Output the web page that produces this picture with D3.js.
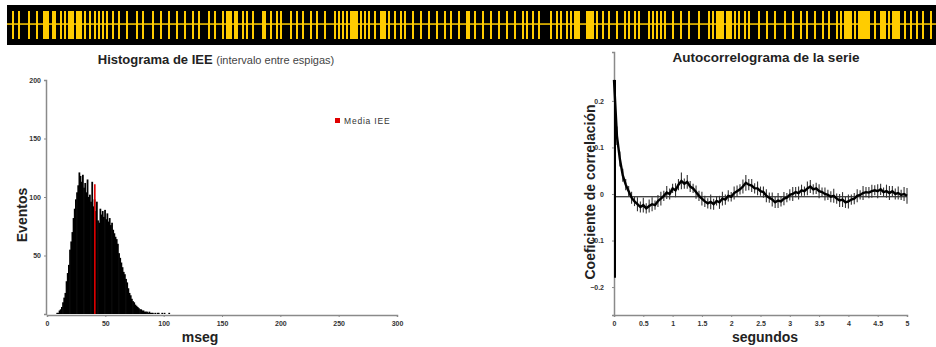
<!DOCTYPE html>
<html>
<head>
<meta charset="utf-8">
<script src="https://cdn.jsdelivr.net/npm/d3@7/dist/d3.min.js"></script>
<style>
  html, body { margin: 0; padding: 0; background: #fff; }
  svg { display: block; font-family: "Liberation Sans", Arial, sans-serif; }
  .tick text { font-size: 7px; font-weight: bold; fill: #333; }
</style>
</head>
<body>
<svg id="chart" width="936" height="347"></svg>
<script>
// tiempos de espigas (ms) para el registro superior
const espigas = [50, 110, 210, 290, 360, 380, 400, 450, 470, 530, 570, 610, 630, 650, 690, 710, 730, 770, 820, 870, 910, 950, 990,
  1050, 1110, 1190, 1290, 1350, 1450, 1530, 1610, 1690, 1770, 1850, 1910, 2010, 2070, 2150, 2190, 2210, 2230, 2270, 2290,
  2350, 2390, 2450, 2550, 2570, 2630, 2690, 2730, 2830, 2890, 2950, 3030, 3090, 3170, 3270, 3310, 3350, 3390, 3430, 3450,
  3470, 3490, 3530, 3570, 3610, 3670, 3730, 3750, 3770, 3810, 3870, 3930, 3970, 4050, 4130, 4210, 4290, 4370, 4430, 4510,
  4590, 4610, 4670, 4750, 4830, 4910, 4990, 5070, 5150, 5190, 5250, 5310, 5430, 5490, 5530, 5590, 5630, 5670, 5690, 5710,
  5790, 5810, 5830, 5850, 5890, 5950, 6010, 6090, 6170, 6210, 6270, 6310, 6410, 6450, 6490, 6530, 6570, 6650, 6730, 6810,
  6910, 7010, 7050, 7090, 7110, 7130, 7150, 7190, 7210, 7230, 7270, 7310, 7370, 7410, 7510, 7590, 7670, 7770, 7850, 7930,
  7990, 8070, 8150, 8210, 8290, 8330, 8370, 8390, 8410, 8430, 8470, 8510, 8530, 8550, 8570, 8590, 8610, 8670, 8730, 8750,
  8770, 8810, 8850, 8870, 8890, 8910, 8970, 9030, 9090, 9150, 9230];
const duracionRegistro = 9290;

// histograma IEE: conteos por bin de 1 ms, desde 0 ms
const conteosIEE = [0, 0, 0, 0, 0, 0, 0, 0, 1, 1,
  3, 4, 6, 10, 14, 18, 28, 35, 42, 55,
  62, 70, 82, 90, 98, 104, 110, 121, 118, 113,
  119, 108, 112, 104, 115, 100, 102, 96, 113, 92,
  98, 88, 96, 80, 78, 90, 85, 88, 83, 89,
  81, 86, 79, 82, 76, 78, 72, 69, 66, 64,
  60, 52, 48, 44, 40, 36, 34, 30, 27, 22,
  18, 16, 13, 11, 10, 8, 7, 6, 5, 4,
  4, 3, 3, 2, 2, 2, 1, 2, 1, 1,
  1, 0, 1, 0, 1, 1, 0, 0, 1, 0,
  1, 0, 0, 0, 1];
const mediaIEE = 41;
const alturaMedia = 111;
const ticksX_IEE = [0, 50, 100, 150, 200, 250, 300];
const ticksY_IEE = [50, 100, 150, 200];

// autocorrelograma: retardos cada 0.05 s de 0 a 5 s
const coefAC = [0.245, 0.125, 0.075, 0.04, 0.02, 0.006, -0.008, -0.016, -0.022, -0.028,
  -0.024, -0.031, -0.026, -0.022, -0.024, -0.015, -0.01, -0.004, 0.003, 0.0,
  0.012, 0.008, 0.02, 0.028, 0.022, 0.026, 0.016, 0.012, 0.004, -0.004,
  -0.01, -0.016, -0.02, -0.017, -0.022, -0.015, -0.018, -0.01, -0.012, -0.004,
  -0.006, 0.002, 0.006, 0.01, 0.016, 0.024, 0.02, 0.018, 0.012, 0.012,
  0.006, 0.004, -0.004, -0.008, -0.012, -0.018, -0.014, -0.016, -0.01, -0.008,
  -0.002, 0.0, 0.004, 0.002, 0.008, 0.006, 0.012, 0.016, 0.01, 0.012,
  0.006, 0.004, 0.0, -0.002, -0.006, -0.004, -0.01, -0.014, -0.012, -0.018,
  -0.016, -0.012, -0.01, -0.004, -0.002, 0.002, 0.004, 0.003, 0.006, 0.008,
  0.006, 0.01, 0.004, 0.006, 0.002, 0.006, 0.0, 0.002, -0.002, 0.0,
  -0.004];
const errAC = [0.425, 0.02, 0.016, 0.014, 0.012, 0.011, 0.013, 0.01, 0.015, 0.012,
  0.016, 0.011, 0.014, 0.015, 0.01, 0.013, 0.015, 0.011, 0.014, 0.012,
  0.01, 0.015, 0.012, 0.018, 0.011, 0.015, 0.012, 0.01, 0.014, 0.011,
  0.015, 0.012, 0.011, 0.016, 0.012, 0.01, 0.014, 0.015, 0.011, 0.012,
  0.01, 0.014, 0.012, 0.011, 0.015, 0.017, 0.012, 0.014, 0.011, 0.015,
  0.01, 0.012, 0.014, 0.011, 0.015, 0.012, 0.016, 0.011, 0.014, 0.01,
  0.012, 0.015, 0.011, 0.014, 0.012, 0.01, 0.015, 0.014, 0.011, 0.012,
  0.015, 0.01, 0.014, 0.011, 0.012, 0.015, 0.011, 0.014, 0.016, 0.012,
  0.015, 0.011, 0.012, 0.014, 0.01, 0.015, 0.011, 0.012, 0.014, 0.011,
  0.015, 0.012, 0.01, 0.014, 0.015, 0.011, 0.012, 0.014, 0.011, 0.015,
  0.017];
const nivelMedioAC = -0.006;
const ticksX_AC = [0, 0.5, 1, 1.5, 2, 2.5, 3, 3.5, 4, 4.5, 5];
const ticksY_AC = [-0.2, -0.1, 0, 0.1, 0.2];

const svg = d3.select('#chart');
const AXIS = '#8a8a8a';

// --- registro de espigas ---
const xR = d3.scaleLinear().domain([0, duracionRegistro]).range([7, 936]);
svg.append('rect').attr('x', 7).attr('y', 5).attr('width', 929).attr('height', 40).attr('fill', '#000');
svg.append('rect').attr('x', 7).attr('y', 23.3).attr('width', 929).attr('height', 1.5).attr('fill', '#ffcc00');
svg.append('g').selectAll('rect').data(espigas).join('rect')
  .attr('x', d => xR(d)).attr('y', 11).attr('width', 2).attr('height', 28)
  .attr('fill', '#ffcc00');

// --- histograma ---
const xH = d3.scaleLinear().domain([0, 300]).range([47, 397]);
const yH = d3.scaleLinear().domain([0, 200]).range([314, 80]);
const gH = svg.append('g');

gH.append('g').selectAll('rect').data(conteosIEE).join('rect')
  .attr('x', (d, i) => xH(i))
  .attr('y', d => yH(d))
  .attr('width', xH(1) - xH(0) + 0.6)
  .attr('height', d => yH(0) - yH(d))
  .attr('fill', '#000');

gH.append('line')
  .attr('x1', xH(mediaIEE)).attr('x2', xH(mediaIEE))
  .attr('y1', yH(0)).attr('y2', yH(alturaMedia))
  .attr('stroke', '#e00000').attr('stroke-width', 1.6);

const axH_x = gH.append('g').attr('transform', `translate(0,${yH(0) + 1})`)
  .call(d3.axisBottom(xH).tickValues(ticksX_IEE).tickSize(2).tickPadding(4));
const axH_y = gH.append('g').attr('transform', `translate(${xH(0) - 1},0)`)
  .call(d3.axisLeft(yH).tickValues(ticksY_IEE).tickSize(2).tickPadding(3));
[axH_x, axH_y].forEach(a => {
  a.select('.domain').attr('stroke', AXIS).attr('stroke-width', 1.5);
  a.selectAll('.tick line').attr('stroke', AXIS);
});

const tH = gH.append('text').attr('x', 216).attr('y', 64).attr('text-anchor', 'middle');
tH.append('tspan').attr('font-weight', 'bold').attr('font-size', 13).attr('fill', '#222').text('Histograma de IEE ');
tH.append('tspan').attr('font-size', 11).attr('fill', '#444').text('(intervalo entre espigas)');

gH.append('rect').attr('x', 335).attr('y', 118).attr('width', 5).attr('height', 5).attr('fill', '#e00000');
gH.append('text').attr('x', 344).attr('y', 123.5).attr('font-size', 8.5).attr('letter-spacing', 0.8)
  .attr('fill', '#333').text('Media IEE');

gH.append('text').attr('x', 200).attr('y', 342).attr('text-anchor', 'middle')
  .attr('font-size', 14).attr('font-weight', 'bold').attr('fill', '#222').text('mseg');
gH.append('text').attr('transform', 'translate(27,215) rotate(-90)').attr('text-anchor', 'middle')
  .attr('font-size', 14).attr('font-weight', 'bold').attr('fill', '#222').text('Eventos');

// --- autocorrelograma ---
const lags = coefAC.map((_, i) => i * 0.05);
const xA = d3.scaleLinear().domain([0, 5]).range([614, 907]);
const yA = d3.scaleLinear().domain([-0.26, 0.305]).range([315, 52]);
const gA = svg.append('g');

const axA_x = gA.append('g').attr('transform', `translate(0,${yA(-0.26)})`)
  .call(d3.axisBottom(xA).tickValues(ticksX_AC).tickSize(2).tickPadding(4).tickFormat(d3.format('~g')));
const axA_y = gA.append('g').attr('transform', `translate(${xA(0)},0)`)
  .call(d3.axisLeft(yA).tickValues(ticksY_AC).tickSize(2).tickPadding(8).tickFormat(d3.format('~g')));
[axA_x, axA_y].forEach(a => {
  a.select('.domain').attr('stroke', AXIS).attr('stroke-width', 1.5);
  a.selectAll('.tick line').attr('stroke', AXIS);
});

gA.append('line')
  .attr('x1', xA(0)).attr('x2', xA(5))
  .attr('y1', yA(nivelMedioAC)).attr('y2', yA(nivelMedioAC))
  .attr('stroke', '#000').attr('stroke-width', 1);

const lo = v => Math.max(v, -0.26), hi = v => Math.min(v, 0.305);
gA.append('g').selectAll('line').data(coefAC).join('line')
  .attr('x1', (d, i) => xA(lags[i]) + (i === 0 ? 1 : 0))
  .attr('x2', (d, i) => xA(lags[i]) + (i === 0 ? 1 : 0))
  .attr('y1', (d, i) => yA(lo(d - errAC[i])))
  .attr('y2', (d, i) => yA(i === 0 ? d : hi(d + errAC[i])))
  .attr('stroke', (d, i) => i === 0 ? '#000' : '#333')
  .attr('stroke-width', (d, i) => i === 0 ? 2 : 1.1);

gA.append('path').datum(coefAC)
  .attr('d', d3.line().x((d, i) => xA(lags[i])).y(d => yA(d)))
  .attr('fill', 'none').attr('stroke', '#000').attr('stroke-width', 2.4);

gA.append('text').attr('x', 766).attr('y', 62).attr('text-anchor', 'middle')
  .attr('font-size', 13.5).attr('font-weight', 'bold').attr('fill', '#222').text('Autocorrelograma de la serie');
gA.append('text').attr('x', 765).attr('y', 342).attr('text-anchor', 'middle')
  .attr('font-size', 14).attr('font-weight', 'bold').attr('fill', '#222').text('segundos');
gA.append('text').attr('transform', 'translate(595,192) rotate(-90)').attr('text-anchor', 'middle')
  .attr('font-size', 14).attr('font-weight', 'bold').attr('fill', '#222').text('Coeficiente de correlación');
</script>
</body>
</html>
